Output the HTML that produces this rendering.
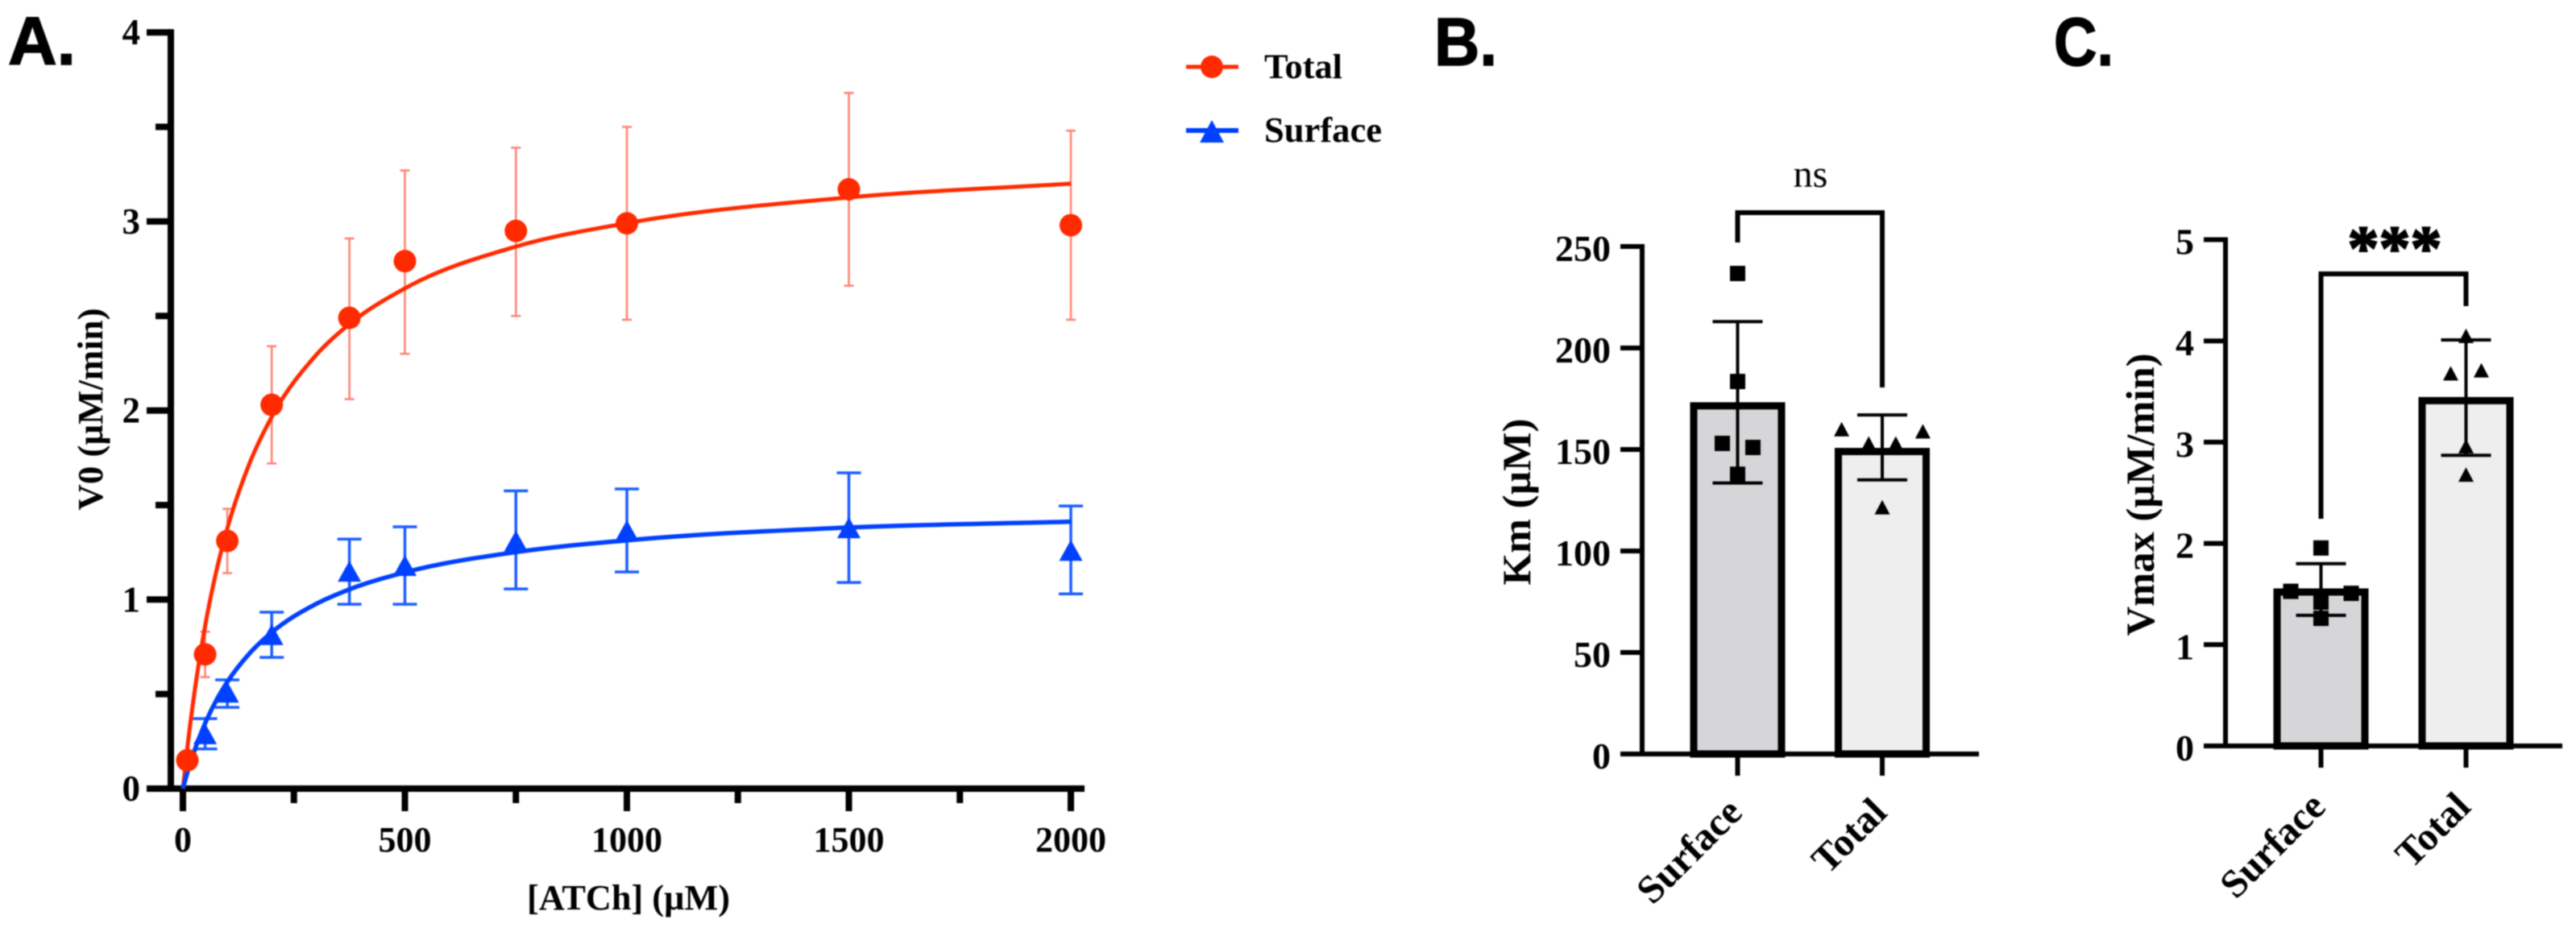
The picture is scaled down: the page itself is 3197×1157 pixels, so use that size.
<!DOCTYPE html>
<html lang="en">
<head>
<meta charset="utf-8">
<title>ATCh kinetics: V0, Km and Vmax</title>
<style>
  html, body { margin: 0; padding: 0; background: #ffffff; }
  body { width: 3197px; height: 1157px; overflow: hidden; }
  svg { display: block; filter: blur(0.7px); }
  text { font-family: "Liberation Serif", serif; font-weight: bold; fill: #000; }
  .letter { font-family: "Liberation Sans", sans-serif; font-size: 84px; stroke: #000; stroke-width: 1.5px; }
</style>
</head>
<body>
<svg id="figure" xmlns="http://www.w3.org/2000/svg" width="3197" height="1157" viewBox="0 0 3197 1157">
  <rect x="0" y="0" width="3197" height="1157" fill="#ffffff"/>

  <text class="letter" x="10" y="80" textLength="84" lengthAdjust="spacingAndGlyphs">A.</text>
  <text class="letter" x="1780" y="81" textLength="78" lengthAdjust="spacingAndGlyphs">B.</text>
  <text class="letter" x="2549" y="81" textLength="74" lengthAdjust="spacingAndGlyphs">C.</text>

  <text x="654" y="1129" font-size="44" textLength="252" lengthAdjust="spacingAndGlyphs">[ATCh] (µM)</text>
  <text transform="translate(127 508) rotate(-90)" text-anchor="middle" font-size="44" textLength="251" lengthAdjust="spacingAndGlyphs">V0 (µM/min)</text>
  <text transform="translate(1899 623) rotate(-90)" text-anchor="middle" font-size="50" textLength="207" lengthAdjust="spacingAndGlyphs">Km (µM)</text>
  <text transform="translate(2673 614) rotate(-90)" text-anchor="middle" font-size="50" textLength="351" lengthAdjust="spacingAndGlyphs">Vmax (µM/min)</text>

  <g>
    <g>
      <line x1="1472" y1="83" x2="1537" y2="83" stroke="#ff2a00" stroke-width="5"/>
      <circle cx="1504" cy="83" r="14" fill="#ff2a00"/>
      <text x="1569" y="97" font-size="43" textLength="97" lengthAdjust="spacingAndGlyphs">Total</text>
    </g>
    <g>
      <line x1="1472" y1="162" x2="1537" y2="162" stroke="#0040ff" stroke-width="6"/>
      <polygon points="1504,149 1519,177 1489,177" fill="#0040ff"/>
      <text x="1569" y="176" font-size="44" textLength="146" lengthAdjust="spacingAndGlyphs">Surface</text>
    </g>
  </g>
</svg>

<script>
// ---------- Panel A data ----------
const totalConcentrations = [10, 50, 100, 200, 375, 500, 750, 1000, 1500, 2000];
const totalMeans = [0.15, 0.71, 1.31, 2.03, 2.49, 2.79, 2.95, 2.99, 3.17, 2.98];
const totalUpper = [0.17, 0.83, 1.48, 2.34, 2.91, 3.27, 3.39, 3.50, 3.68, 3.48];
const totalLower = [0.13, 0.59, 1.14, 1.72, 2.06, 2.30, 2.50, 2.48, 2.66, 2.48];

const surfaceConcentrations = [50, 100, 200, 375, 500, 750, 1000, 1500, 2000];
const surfaceMeans = [0.29, 0.51, 0.815, 1.15, 1.18, 1.31, 1.365, 1.38, 1.26];
const surfaceUpper = [0.37, 0.575, 0.933, 1.32, 1.385, 1.575, 1.585, 1.67, 1.495];
const surfaceLower = [0.21, 0.43, 0.694, 0.975, 0.975, 1.056, 1.146, 1.09, 1.03];

const fitConcentrations = [0, 10, 25, 50, 75, 100, 150, 200, 300, 375, 500, 750, 1000, 1500, 2000];
const totalFit = [0, 0.215, 0.491, 0.86, 1.147, 1.376, 1.72, 1.966, 2.293, 2.457, 2.646, 2.867, 2.991, 3.127, 3.2];
const surfaceFit = [0, 0.084, 0.194, 0.345, 0.466, 0.564, 0.715, 0.826, 0.977, 1.054, 1.144, 1.251, 1.313, 1.381, 1.412];

const panelAXMajorTicks = [0, 500, 1000, 1500, 2000];
const panelAXMinorTicks = [250, 750, 1250, 1750];
const panelAYMajorTicks = [0, 1, 2, 3, 4];
const panelAYMinorTicks = [0.5, 1.5, 2.5, 3.5];

// ---------- Panel B data ----------
const barCategories = ["Surface", "Total"];
const kmMeans = [171.5, 149];
const kmUpper = [213, 167];
const kmLower = [133.5, 135];
const kmSurfacePoints = [236.7, 183.5, 153, 151, 137.8];
const kmSurfaceSlots = [0, 0, -1, 1, 0];
const kmTotalPoints = [160, 153, 153, 159, 121.6];
const kmTotalSlots = [-1.5, -0.5, 0.5, 1.5, 0];
const kmTicks = [0, 50, 100, 150, 200, 250];

// ---------- Panel C data ----------
const vmaxMeans = [1.52, 3.41];
const vmaxUpper = [1.80, 4.01];
const vmaxLower = [1.29, 2.87];
const vmaxSurfacePoints = [1.955, 1.527, 1.507, 1.42, 1.26];
const vmaxSurfaceSlots = [0, -1, 1, 0, 0];
const vmaxTotalPoints = [4.05, 3.68, 3.71, 2.96, 2.68];
const vmaxTotalSlots = [0, -1, 1, 0, 0];
const vmaxTicks = [0, 1, 2, 3, 4, 5];

// ---------- Axis functions ----------
const xA = v => 227 + v * 0.551;
const yA = v => 979 - v * 234.7;
const xB = i => 2156.5 + i * 179.5;
const yB = v => 936 - v * 2.52;
const xC = i => 2880.5 + i * 180;
const yC = v => 926 - v * 125.7;

const RED = "#ff2a00", RED_ERR = "#ff8070", BLUE = "#0040ff", BLUE_ERR = "#1a5cff";
const SVGNS = "http://www.w3.org/2000/svg";
const root = document.getElementById("figure");

function mk(tag, attrs, parent) {
  const node = document.createElementNS(SVGNS, tag);
  for (const k in attrs) node.setAttribute(k, attrs[k]);
  (parent || root).appendChild(node);
  return node;
}

function seg(name, x1, y1, x2, y2, color, width, parent) {
  const el = mk("line", { x1: x1, y1: y1, x2: x2, y2: y2, stroke: color, "stroke-width": width }, parent);
  
  
  return el;
}

function label(name, str, x, y, size, anchor, parent) {
  const el = mk("text", { x: x, y: y, "font-size": size, "text-anchor": anchor }, parent);
  el.textContent = str;
  
  
  return el;
}

function group(name) {
  const el = mk("g", {});
  
  
  return el;
}

function circleMark(name, cx, cy, r, color, parent) {
  const el = mk("circle", { cx: cx, cy: cy, r: r, fill: color }, parent);
  
  
  return el;
}

function triangleMark(name, cx, cy, w, h, color, parent) {
  const el = mk("polygon", {
    points: cx + "," + (cy - h / 2) + " " + (cx + w / 2) + "," + (cy + h / 2) + " " + (cx - w / 2) + "," + (cy + h / 2),
    fill: color
  }, parent);
  
  
  return el;
}

function squareMark(name, cx, cy, s, color, parent) {
  const el = mk("rect", { x: cx - s / 2, y: cy - s / 2, width: s, height: s, fill: color }, parent);
  
  
  return el;
}

// Smooth curve through fitted values (monotone cubic in pixel space)
function curvePath(xs, ys) {
  const n = xs.length, slopes = [], tang = [];
  for (let i = 0; i < n - 1; i++) slopes.push((ys[i + 1] - ys[i]) / (xs[i + 1] - xs[i]));
  tang.push(slopes[0]);
  for (let i = 1; i < n - 1; i++) {
    const h0 = xs[i] - xs[i - 1], h1 = xs[i + 1] - xs[i];
    tang.push((slopes[i - 1] * h1 + slopes[i] * h0) / (h0 + h1));
  }
  tang.push(slopes[n - 2]);
  let d = "M" + xs[0].toFixed(2) + " " + ys[0].toFixed(2);
  for (let i = 0; i < n - 1; i++) {
    const h = xs[i + 1] - xs[i];
    d += " C" + (xs[i] + h / 3).toFixed(2) + " " + (ys[i] + tang[i] * h / 3).toFixed(2) +
         " " + (xs[i + 1] - h / 3).toFixed(2) + " " + (ys[i + 1] - tang[i + 1] * h / 3).toFixed(2) +
         " " + xs[i + 1].toFixed(2) + " " + ys[i + 1].toFixed(2);
  }
  return d;
}

// ---------- Panel A ----------
function drawPanelA() {
  const axes = group("panel-a-axes");
  seg("panel-a-y-axis-line", 212, yA(4) - 4, 212, yA(0) + 4, "#000", 8, axes);
  seg("panel-a-x-axis-line", 182, yA(0), 1346, yA(0), "#000", 8, axes);
  panelAYMajorTicks.forEach(v => {
    seg("panel-a-y-tick-" + v, 182, yA(v), 212, yA(v), "#000", 8, axes);
    label("panel-a-y-tick-label-" + v, String(v), 174, yA(v) + 15, 45, "end", axes);
  });
  panelAYMinorTicks.forEach(v => {
    seg("panel-a-y-minor-tick-" + v, 193, yA(v), 212, yA(v), "#000", 8, axes);
  });
  panelAXMajorTicks.forEach(v => {
    seg("panel-a-x-tick-" + v, xA(v), yA(0), xA(v), 1007, "#000", 8, axes);
    label("panel-a-x-tick-label-" + v, String(v), xA(v), 1057, 44, "middle", axes);
  });
  panelAXMinorTicks.forEach(v => {
    seg("panel-a-x-minor-tick-" + v, xA(v), yA(0), xA(v), 997, "#000", 8, axes);
  });

  const surf = group("series-surface");
  surfaceConcentrations.forEach((c, i) => {
    const x = xA(c);
    seg("surface-error-bar-" + c, x, yA(surfaceUpper[i]), x, yA(surfaceLower[i]), BLUE_ERR, 3.5, surf);
    seg("surface-error-cap-top-" + c, x - 15, yA(surfaceUpper[i]), x + 15, yA(surfaceUpper[i]), BLUE_ERR, 3.5, surf);
    seg("surface-error-cap-bottom-" + c, x - 15, yA(surfaceLower[i]), x + 15, yA(surfaceLower[i]), BLUE_ERR, 3.5, surf);
  });

  const tot = group("series-total");
  totalConcentrations.forEach((c, i) => {
    const x = xA(c);
    seg("total-error-bar-" + c, x, yA(totalUpper[i]), x, yA(totalLower[i]), RED_ERR, 2.5, tot);
    seg("total-error-cap-top-" + c, x - 6, yA(totalUpper[i]), x + 6, yA(totalUpper[i]), RED_ERR, 2.5, tot);
    seg("total-error-cap-bottom-" + c, x - 6, yA(totalLower[i]), x + 6, yA(totalLower[i]), RED_ERR, 2.5, tot);
  });

  const totalCurve = mk("path", {
    d: curvePath(fitConcentrations.map(xA), totalFit.map(yA)),
    fill: "none", stroke: RED, "stroke-width": 5
  }, tot);
  
  

  const surfaceCurve = mk("path", {
    d: curvePath(fitConcentrations.map(xA), surfaceFit.map(yA)),
    fill: "none", stroke: BLUE, "stroke-width": 5.5
  }, tot);
  
  

  surfaceConcentrations.forEach((c, i) => {
    triangleMark("surface-point-" + c, xA(c), yA(surfaceMeans[i]), 29, 26, BLUE, tot);
  });
  totalConcentrations.forEach((c, i) => {
    circleMark("total-point-" + c, xA(c), yA(totalMeans[i]), 14, RED, tot);
  });
}

// ---------- Bar panels ----------
function drawBarPanel(cfg) {
  const p = cfg.prefix, y = cfg.y, x = cfg.x;
  const axes = group(p + "-axes");
  seg(p + "-y-axis-line", cfg.axisX, y(cfg.ticks[cfg.ticks.length - 1]) - 3, cfg.axisX, y(0) + 3, "#000", 6, axes);

  const fills = ["#d6d6d8", "#eeeeee"];
  barCategories.forEach((cat, i) => {
    const bar = mk("rect", {
      x: x(i) - 54.5, y: y(cfg.means[i]), width: 109, height: y(0) - y(cfg.means[i]),
      fill: fills[i], stroke: "#000", "stroke-width": 9
    });
    
    
  });

  seg(p + "-x-axis-line", cfg.tickLeft, y(0), cfg.axisRight, y(0), "#000", 6, axes);
  cfg.ticks.forEach(v => {
    seg(p + "-y-tick-" + v, cfg.tickLeft, y(v), cfg.axisX, y(v), "#000", 6, axes);
    label(p + "-y-tick-label-" + v, String(v), cfg.tickLeft - 12, y(v) + 18, 46, "end", axes);
  });
  barCategories.forEach((cat, i) => {
    seg(p + "-x-tick-" + cat.toLowerCase(), x(i), y(0), x(i), y(0) + 27, "#000", 6, axes);
    const px = x(i) + 8, py = y(0) + cfg.labelDrop;
    const t = mk("text", {
      transform: "rotate(-45 " + px + " " + py + ")",
      x: px, y: py, "font-size": 49, "text-anchor": "end"
    }, axes);
    t.textContent = cat;
    
    
  });

  barCategories.forEach((cat, i) => {
    const name = p + "-" + cat.toLowerCase();
    const grp = group(name + "-errors-and-points");
    seg(name + "-error-bar", x(i), y(cfg.upper[i]), x(i), y(cfg.lower[i]), "#000", 4, grp);
    seg(name + "-error-cap-top", x(i) - 31, y(cfg.upper[i]), x(i) + 31, y(cfg.upper[i]), "#000", 4, grp);
    seg(name + "-error-cap-bottom", x(i) - 31, y(cfg.lower[i]), x(i) + 31, y(cfg.lower[i]), "#000", 4, grp);
    if (i === 0) {
      cfg.surfacePoints.forEach((v, k) => {
        squareMark(name + "-point-" + k, x(i) + cfg.surfaceSlots[k] * cfg.surfaceStep, y(v), 19, "#000", grp);
      });
    } else {
      cfg.totalPoints.forEach((v, k) => {
        triangleMark(name + "-point-" + k, x(i) + cfg.totalSlots[k] * cfg.totalStep, y(v), 19, 18, "#000", grp);
      });
    }
  });

  const bracket = mk("path", {
    d: "M" + x(0) + " " + cfg.bracketLeftEnd + " V" + cfg.bracketTop + " H" + x(1) + " V" + cfg.bracketRightEnd,
    fill: "none", stroke: "#000", "stroke-width": 6
  });
  
  
}

drawPanelA();

drawBarPanel({
  prefix: "panel-b", x: xB, y: yB, axisX: 2038, tickLeft: 2011, axisRight: 2456, labelDrop: 75,
  ticks: kmTicks, means: kmMeans, upper: kmUpper, lower: kmLower,
  surfacePoints: kmSurfacePoints, surfaceSlots: kmSurfaceSlots, surfaceStep: 19,
  totalPoints: kmTotalPoints, totalSlots: kmTotalSlots, totalStep: 33.6,
  bracketTop: 264, bracketLeftEnd: 301, bracketRightEnd: 481
});

drawBarPanel({
  prefix: "panel-c", x: xC, y: yC, axisX: 2762, tickLeft: 2735, axisRight: 3180, labelDrop: 78,
  ticks: vmaxTicks, means: vmaxMeans, upper: vmaxUpper, lower: vmaxLower,
  surfacePoints: vmaxSurfacePoints, surfaceSlots: vmaxSurfaceSlots, surfaceStep: 37.5,
  totalPoints: vmaxTotalPoints, totalSlots: vmaxTotalSlots, totalStep: 19,
  bracketTop: 340, bracketLeftEnd: 644, bracketRightEnd: 380
});

const nsLabel = mk("text", { x: 2247, y: 232, "font-size": 48, "text-anchor": "middle", style: "font-weight:normal" });
nsLabel.textContent = "ns";



const starLabel = mk("text", { x: 2972, y: 334, "font-size": 78, "text-anchor": "middle", stroke: "#000", "stroke-width": 2 });
starLabel.textContent = "***";


</script>
</body>
</html>
